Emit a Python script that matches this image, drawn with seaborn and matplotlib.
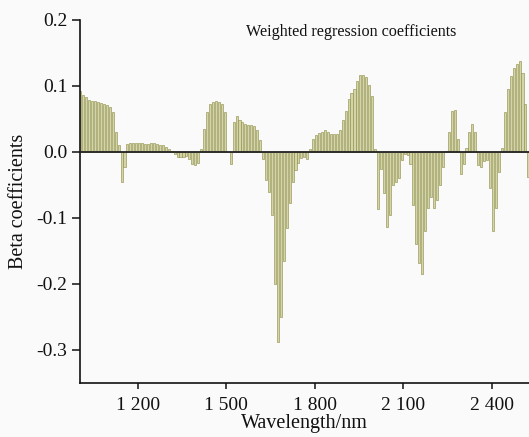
import numpy as np
import pandas as pd
import matplotlib
matplotlib.use("Agg")
import matplotlib.pyplot as plt
import seaborn as sns

# Data
wavelength_start = 1005
wavelength_step = 10
beta = [
    0.092, 0.087, 0.083, 0.079, 0.078, 0.077, 0.076, 0.075, 0.073, 0.071,
    0.068, 0.061, 0.030, 0.010, -0.045, -0.022, 0.012, 0.014, 0.014, 0.014,
    0.014, 0.013, 0.012, 0.012, 0.013, 0.013, 0.012, 0.011, 0.010, 0.008,
    0.005, 0.001, -0.003, -0.007, -0.008, -0.008, -0.006, -0.010, -0.018, -0.020,
    -0.016, 0.005, 0.035, 0.060, 0.072, 0.076, 0.077, 0.076, 0.073, 0.060,
    0.000, -0.018, 0.045, 0.054, 0.049, 0.045, 0.042, 0.041, 0.041, 0.039,
    0.034, 0.018, -0.010, -0.042, -0.060, -0.095, -0.200, -0.288, -0.250, -0.165,
    -0.115, -0.078, -0.046, -0.027, -0.016, -0.009, -0.007, -0.010, 0.005, 0.020,
    0.026, 0.029, 0.031, 0.033, 0.030, 0.028, 0.028, 0.027, 0.034, 0.048,
    0.062, 0.080, 0.089, 0.095, 0.108, 0.116, 0.117, 0.113, 0.102, 0.085,
    0.005, -0.086, -0.025, -0.062, -0.113, -0.095, -0.050, -0.045, -0.040, -0.012,
    -0.003, -0.005, -0.018, -0.080, -0.140, -0.168, -0.185, -0.120, -0.085, -0.068,
    -0.085, -0.072, -0.050, -0.022, 0.002, 0.030, 0.062, 0.063, 0.020, -0.033,
    -0.018, 0.006, 0.030, 0.043, 0.030, -0.020, -0.022, -0.014, -0.012, -0.055,
    -0.120, -0.085, -0.030, 0.006, 0.060, 0.095, 0.115, 0.127, 0.133, 0.138,
    0.120, 0.072, -0.038,
]
wavelength = [wavelength_start + wavelength_step * i for i in range(len(beta))]

x_ticks = [1200, 1500, 1800, 2100, 2400]
x_tick_labels = ["1 200", "1 500", "1 800", "2 100", "2 400"]
y_ticks = [-0.3, -0.2, -0.1, 0.0, 0.1, 0.2]
y_tick_labels = ["-0.3", "-0.2", "-0.1", "0.0", "0.1", "0.2"]

sns.set_style("ticks")
plt.rcParams["font.family"] = ["Liberation Serif", "DejaVu Serif"]

df = pd.DataFrame({"wavelength": wavelength, "beta": beta})

fig = plt.figure(figsize=(5.29, 4.37), dpi=100)
fig.patch.set_facecolor("#fafafa")
ax = fig.add_axes([80 / 529, 54 / 437, 449 / 529, 363 / 437])
ax.set_facecolor("#fafafa")

sns.barplot(data=df, x="wavelength", y="beta", native_scale=True,
            color="#d4d4aa", edgecolor="#8a8a3c", linewidth=0.4,
            width=0.7, saturation=1, errorbar=None, ax=ax)

ax.axhline(0, color="#222222", lw=1.3, zorder=5)

ax.set_xlim(1004, 2527)
ax.set_ylim(-0.35, 0.2)
ax.set_xticks(x_ticks)
ax.set_xticklabels(x_tick_labels)
ax.set_yticks(y_ticks)
ax.set_yticklabels(y_tick_labels)
ax.tick_params(axis="x", direction="out", length=4, width=1.1, labelsize=14, pad=6, colors="#111111")
ax.tick_params(axis="y", direction="out", length=6, width=1.1, labelsize=14, pad=3, colors="#111111")

for s in ["top", "right"]:
    ax.spines[s].set_visible(False)
for s in ["left", "bottom"]:
    ax.spines[s].set_linewidth(1.2)
    ax.spines[s].set_color("#111111")

ax.set_xlabel("Wavelength/nm", fontsize=14.5, labelpad=0, color="#111111")
ax.set_ylabel("Beta coefficients", fontsize=14.5, labelpad=6, color="#111111")

ax.text(0.604, 0.967, "Weighted regression coefficients", transform=ax.transAxes,
        ha="center", va="center", fontsize=11.6, color="#111111")

fig.savefig("out.png", dpi=100, facecolor=fig.get_facecolor())
